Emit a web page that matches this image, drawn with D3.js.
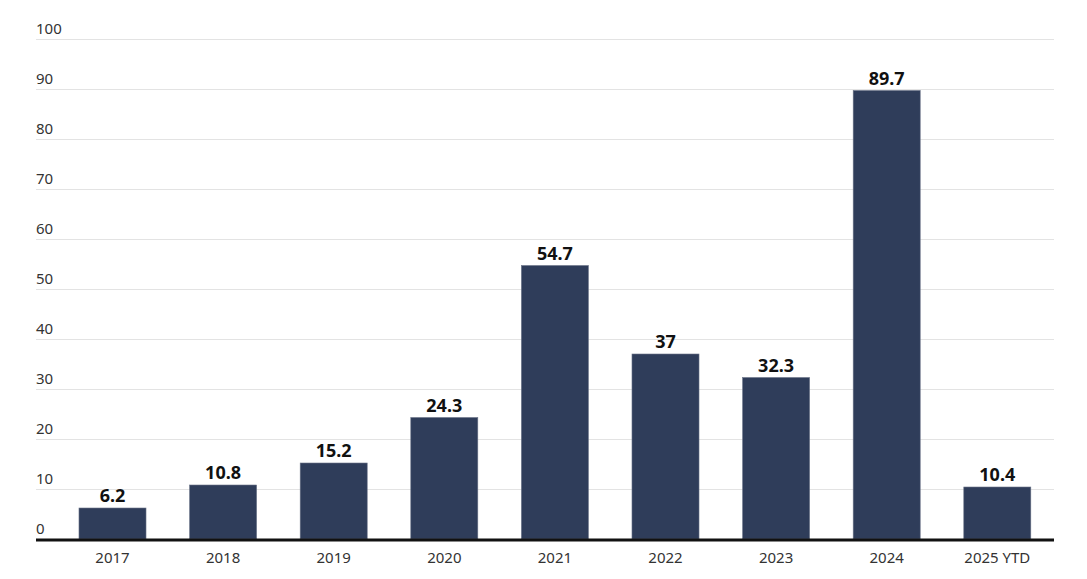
<!DOCTYPE html>
<html><head><meta charset="utf-8">
<script src="https://cdn.jsdelivr.net/npm/d3@7"></script>
<style>
html,body{margin:0;padding:0;background:#fff;}
svg{display:block;font-family:"Noto Sans","Open Sans",sans-serif;}
</style></head>
<body>
<svg id="chart" width="1087" height="579"></svg>
<script>
const categories = ["2017","2018","2019","2020","2021","2022","2023","2024","2025 YTD"];
const values = [6.2, 10.8, 15.2, 24.3, 54.7, 37, 32.3, 89.7, 10.4];
const valueLabels = ["6.2","10.8","15.2","24.3","54.7","37","32.3","89.7","10.4"];
const yTicks = [0,10,20,30,40,50,60,70,80,90,100];

const svg = d3.select("#chart");
const gridX0 = 36, gridX1 = 1054;
const y = d3.scaleLinear().domain([0,100]).range([539,39]);
const x = d3.scaleBand().domain(categories).range([57.2,1052.6]).paddingInner(0.394).paddingOuter(0.197);

// gridlines
svg.append("g").selectAll("line").data(yTicks.filter(d=>d>0)).join("line")
  .attr("x1",gridX0).attr("x2",gridX1)
  .attr("y1",d=>y(d)+0.5).attr("y2",d=>y(d)+0.5)
  .attr("stroke","#e3e3e3").attr("stroke-width",1);

// y tick labels
svg.append("g").selectAll("text").data(yTicks).join("text")
  .attr("x",gridX0).attr("y",d=>y(d)-5)
  .attr("font-size",15).attr("fill","#333")
  .text(d=>d);

// bars
svg.append("g").selectAll("rect").data(values).join("rect")
  .attr("x",(d,i)=>x(categories[i]))
  .attr("width",x.bandwidth())
  .attr("y",d=>y(d))
  .attr("height",d=>y(0)-y(d))
  .attr("fill","#2f3d5a")
  .attr("stroke","#6b7488").attr("stroke-width",0.6);

// value labels
svg.append("g").selectAll("text").data(values).join("text")
  .attr("x",(d,i)=>x(categories[i])+x.bandwidth()/2)
  .attr("y",d=>y(d)-6)
  .attr("text-anchor","middle")
  .attr("font-size",18).attr("font-weight","bold").attr("fill","#111")
  .text((d,i)=>valueLabels[i]);

// baseline
svg.append("line").attr("x1",gridX0).attr("x2",gridX1)
  .attr("y1",y(0)+1).attr("y2",y(0)+1)
  .attr("stroke","#111").attr("stroke-width",3);

// x labels
const xAxis = d3.axisBottom(x).tickSize(0).tickPadding(0);
const gx = svg.append("g").attr("transform",`translate(0,${y(0)})`).call(xAxis);
gx.select(".domain").remove();
gx.selectAll("text").attr("font-size",15).attr("fill","#333")
  .attr("font-family","'Noto Sans','Open Sans',sans-serif")
  .attr("dy",null).attr("y",24);
</script>
</body></html>
